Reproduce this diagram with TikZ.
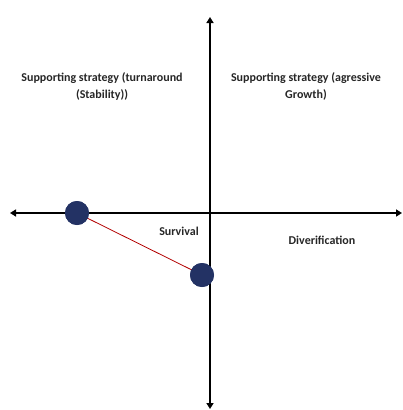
\documentclass[tikz,border=0pt]{standalone}
\usepackage{fontspec}
\setmainfont{Carlito}
\usetikzlibrary{arrows.meta}
\begin{document}
\begin{tikzpicture}[x=1pt,y=-1pt,
  axis/.style={line width=2.6pt,-{Triangle[length=6pt,width=7pt]}},
  dot/.style={circle,fill={rgb,255:red,35;green,50;blue,100},minimum size=24pt,inner sep=0pt},
  lbl/.style={font=\bfseries\fontsize{12}{17}\selectfont,align=center,text=black!85}]
\useasboundingbox (0,0) rectangle (402,410);
\coordinate (o) at (210,213);
\coordinate (L) at (10,213);
\coordinate (R) at (402,213);
\coordinate (T) at (210,17);
\coordinate (B) at (210,409);
\draw[axis] (o) -- (L);
\draw[axis] (o) -- (R);
\draw[axis] (o) -- (T);
\draw[axis] (o) -- (B);
\node[dot] (c1) at (77,213) {};
\node[dot] (c2) at (202,275) {};
\draw[red!70!black,line width=0.8pt] (c1.center) -- (c2.center);
\node[dot] at (c1) {};
\node[dot] at (c2) {};
\node[lbl] (q1) at (102,86) {Supporting strategy (turnaround\\(Stability))};
\node[lbl] (q2) at (306,86) {Supporting strategy (agressive\\Growth)};
\node[lbl] (s) at (179,231) {Survival};
\node[lbl] (d) at (322,240) {Diverification};
\end{tikzpicture}
\end{document}
